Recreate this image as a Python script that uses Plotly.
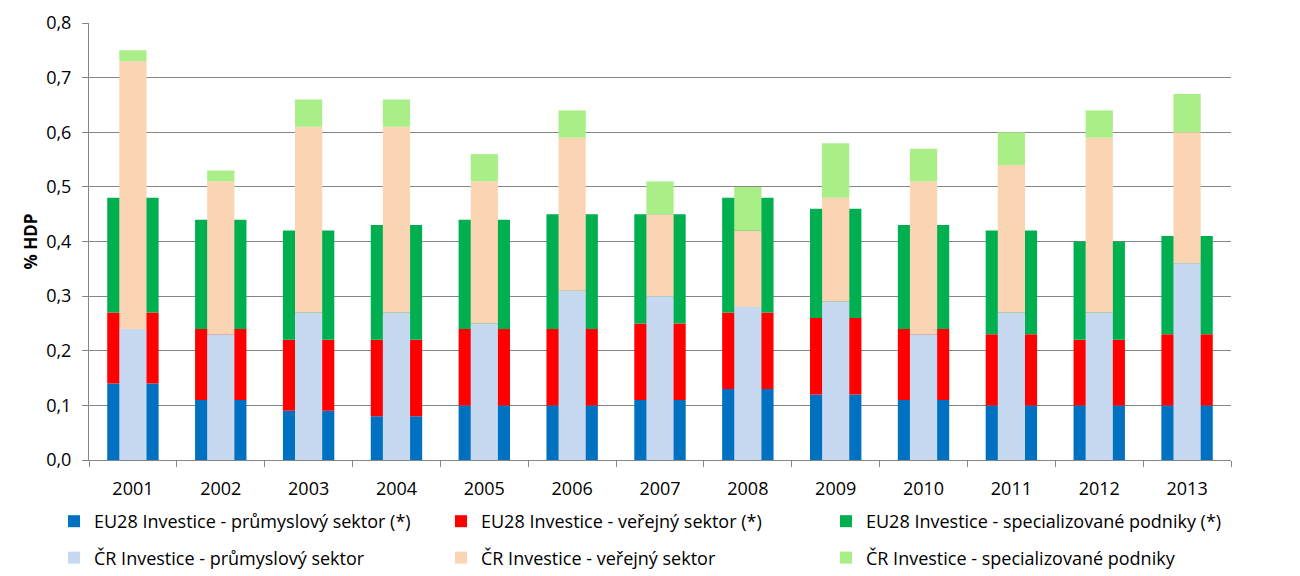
import plotly.graph_objects as go

years = ["2001", "2002", "2003", "2004", "2005", "2006", "2007",
         "2008", "2009", "2010", "2011", "2012", "2013"]

eu_industry = [0.14, 0.11, 0.09, 0.08, 0.10, 0.10, 0.11, 0.13, 0.12, 0.11, 0.10, 0.10, 0.10]
eu_public = [0.13, 0.13, 0.13, 0.14, 0.14, 0.14, 0.14, 0.14, 0.14, 0.13, 0.13, 0.12, 0.13]
eu_special = [0.21, 0.20, 0.20, 0.21, 0.20, 0.21, 0.20, 0.21, 0.20, 0.19, 0.19, 0.18, 0.18]

cz_industry = [0.24, 0.23, 0.27, 0.27, 0.25, 0.31, 0.30, 0.28, 0.29, 0.23, 0.27, 0.27, 0.36]
cz_public = [0.49, 0.28, 0.34, 0.34, 0.26, 0.28, 0.15, 0.14, 0.19, 0.28, 0.27, 0.32, 0.24]
cz_special = [0.02, 0.02, 0.05, 0.05, 0.05, 0.05, 0.06, 0.08, 0.10, 0.06, 0.06, 0.05, 0.07]

names = [
    "EU28 Investice - průmyslový sektor (*)",
    "EU28 Investice - veřejný sektor (*)",
    "EU28 Investice - specializované podniky (*)",
    "ČR Investice - průmyslový sektor",
    "ČR Investice - veřejný sektor",
    "ČR Investice - specializované podniky",
]
colors = ["#0070C0", "#FF0000", "#00B050", "#C6D9F0", "#FBD4B4", "#AAEE88"]

FONT = "Open Sans, Liberation Sans, Arial, sans-serif"

def stack(series):
    bases, acc = [], [0.0] * len(series[0])
    for s in series:
        bases.append(list(acc))
        acc = [round(a + v, 4) for a, v in zip(acc, s)]
    return bases

eu_series = [eu_industry, eu_public, eu_special]
cz_series = [cz_industry, cz_public, cz_special]
eu_bases = stack(eu_series)
cz_bases = stack(cz_series)

legends = ["legend", "legend2", "legend3"]

fig = go.Figure()
for i, (vals, base) in enumerate(zip(eu_series, eu_bases)):
    fig.add_trace(go.Bar(
        x=years, y=vals, base=base, name=names[i], width=0.585, opacity=1,
        marker=dict(color=colors[i], line=dict(width=0)),
        legend=legends[i], legendgroup="eu%d" % i,
        hovertemplate="%{x}: %{y}<extra>" + names[i] + "</extra>"))
for i, (vals, base) in enumerate(zip(cz_series, cz_bases)):
    fig.add_trace(go.Bar(
        x=years, y=vals, base=base, name=names[3 + i], width=0.31, opacity=1,
        marker=dict(color=colors[3 + i], line=dict(width=0)),
        legend=legends[i], legendgroup="cz%d" % i,
        hovertemplate="%{x}: %{y}<extra>" + names[3 + i] + "</extra>"))

leg_common = dict(
    orientation="v", xref="container", yref="container",
    yanchor="top", xanchor="left", tracegroupgap=10,
    font=dict(family=FONT, size=18, color="#000000"),
    bgcolor="rgba(0,0,0,0)", itemwidth=30,
)
leg_y = 1 - 495 / 576
fig.update_layout(
    barmode="overlay",
    width=1300, height=576,
    margin=dict(l=81, r=77, t=15, b=124, autoexpand=False),
    paper_bgcolor="white", plot_bgcolor="white",
    separators=", ",
    font=dict(family=FONT, size=16, color="#000000"),
    legend=dict(x=46 / 1300, y=leg_y, **leg_common),
    legend2=dict(x=433 / 1300, y=leg_y, **leg_common),
    legend3=dict(x=818 / 1300, y=leg_y, **leg_common),
    xaxis=dict(
        type="category", categoryorder="array", categoryarray=years,
        showline=True, linecolor="#868686", linewidth=1,
        ticks="outside", tickson="boundaries", ticklen=6, tickcolor="#868686",
        showgrid=False, tickfont=dict(family=FONT, size=18), tickangle=0,
        ticklabelstandoff=12, automargin=False,
    ),
    yaxis=dict(
        range=[0, 0.8], dtick=0.1, tickformat=".1f",
        showline=True, linecolor="#868686", linewidth=1,
        ticks="outside", ticklen=6, tickcolor="#868686",
        showgrid=True, gridcolor="#868686", gridwidth=1,
        zeroline=False, tickfont=dict(family=FONT, size=18),
        ticklabelstandoff=7, automargin=False,
    ),
    annotations=[dict(
        text="<b>% HDP</b>", xref="paper", yref="paper",
        x=-59 / 1142, y=0.5, xanchor="center", yanchor="middle",
        textangle=-90, showarrow=False,
        font=dict(family=FONT, size=17, color="#000000"),
    )],
)

fig.write_html("out.html")
